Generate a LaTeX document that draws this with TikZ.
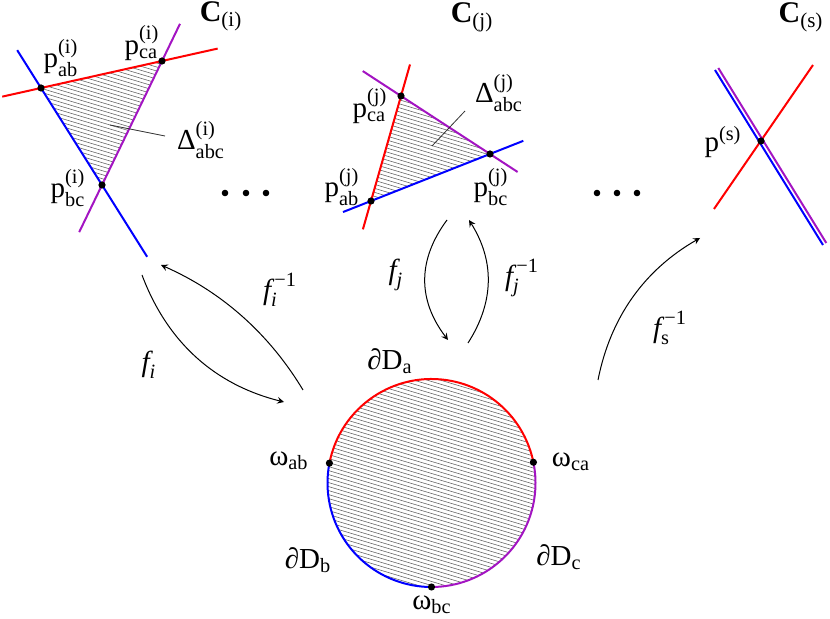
\documentclass[tikz,border=0pt]{standalone}
\usepackage{amsmath}
\usepackage{fontspec}
\setmainfont{Liberation Serif}
\usepackage{tikz}
\usetikzlibrary{arrows,calc}

\definecolor{lilac}{rgb}{0.64,0.08,0.76}

\newcommand{\plab}[2]{$\text{p}^{\text{(#2)}}_{\text{#1}}$}
\newcommand{\hatchall}{\foreach \c in {-300,-296,...,700} \draw[hatch] (0,\c) -- (830,\c+249);}

\tikzset{
  aline/.style={red, line width=1pt},
  bline/.style={blue, line width=1pt},
  cline/.style={lilac, line width=1pt},
  hatch/.style={black!60, line width=0.3pt},
  pdot/.style={circle, fill=black, inner sep=0pt, minimum size=3.6pt},
  ddot/.style={circle, fill=black, inner sep=0pt, minimum size=3.3pt},
  lbl/.style={font=\fontsize{14.5}{16}\selectfont, inner sep=0pt},
  clbl/.style={font=\fontsize{15}{17}\selectfont, inner sep=0pt},
  map/.style={->, >=stealth, line width=0.5pt},
  leader/.style={black!80, line width=0.4pt}
}

\begin{document}
\begin{tikzpicture}[x=0.5pt, y=-0.5pt]
    \useasboundingbox (0,0) rectangle (830,619);

    % curve C(i)
    \coordinate (pabI) at (41,88);
    \coordinate (pcaI) at (162,61);
    \coordinate (pbcI) at (102,185);
    \begin{scope}
      \clip (pabI) -- (pcaI) -- (pbcI) -- cycle;
      \hatchall
    \end{scope}
    \draw[aline] ($(pabI)!-0.32!(pcaI)$) -- ($(pabI)!1.46!(pcaI)$);
    \draw[bline] ($(pabI)!-0.39!(pbcI)$) -- ($(pabI)!1.74!(pbcI)$);
    \draw[cline] ($(pcaI)!-0.3!(pbcI)$) -- ($(pcaI)!1.38!(pbcI)$);
    \node[pdot] (dabI) at (pabI) {};
    \node[pdot] (dcaI) at (pcaI) {};
    \node[pdot] (dbcI) at (pbcI) {};
    \node[lbl] (labI) at (61,58) {\plab{ab}{i}};
    \node[lbl] (lcaI) at (142,43) {\plab{ca}{i}};
    \node[lbl] (lbcI) at (68,188) {\plab{bc}{i}};
    \node[lbl] (deltaI) at (201,140) {$\text{Δ}^{\text{(i)}}_{\text{abc}}$};
    \coordinate (inI) at (110,125);
    \coordinate (outI) at (165,136);
    \draw[leader] (inI) -- (outI);
    \node[clbl] (curveI) at (221,16) {$\textbf{C}_{\text{(i)}}$};

    % curve C(j)
    \coordinate (pcaJ) at (401,96);
    \coordinate (pbcJ) at (490,154);
    \coordinate (pabJ) at (371,201);
    \begin{scope}
      \clip (pabJ) -- (pcaJ) -- (pbcJ) -- cycle;
      \hatchall
    \end{scope}
    \draw[aline] ($(pabJ)!-0.27!(pcaJ)$) -- ($(pabJ)!1.3!(pcaJ)$);
    \draw[bline] ($(pabJ)!-0.235!(pbcJ)$) -- ($(pabJ)!1.28!(pbcJ)$);
    \draw[cline] ($(pcaJ)!-0.43!(pbcJ)$) -- ($(pcaJ)!1.31!(pbcJ)$);
    \node[pdot] (dabJ) at (pabJ) {};
    \node[pdot] (dcaJ) at (pcaJ) {};
    \node[pdot] (dbcJ) at (pbcJ) {};
    \node[lbl] (lcaJ) at (370,106) {\plab{ca}{j}};
    \node[lbl] (labJ) at (342,187) {\plab{ab}{j}};
    \node[lbl] (lbcJ) at (491,187) {\plab{bc}{j}};
    \node[lbl] (deltaJ) at (499,93) {$\text{Δ}^{\text{(j)}}_{\text{abc}}$};
    \coordinate (inJ) at (432,146);
    \coordinate (outJ) at (465,111);
    \draw[leader] (inJ) -- (outJ);
    \node[clbl] (curveJ) at (472,17) {$\textbf{C}_{\text{(j)}}$};

    % curve C(s)
    \coordinate (pS) at (761,141);
    \draw[aline] (714,209) -- (813,65);
    \draw[bline] (715,70) -- (823,245);
    \draw[cline] (718.3,68) -- (826.3,243);
    \node[pdot] (dS) at (pS) {};
    \node[lbl] (lS) at (723,142) {$\text{p}^{\text{(s)}}$};
    \node[clbl] (curveS) at (801,17) {$\textbf{C}_{\text{(s)}}$};

    % dots
    \foreach \x in {225,246,266} \node[ddot] at (\x,193) {};
    \foreach \x in {597,617,637} \node[ddot] at (\x,193) {};

    % disc D
    \coordinate (O) at (431.5,483);
    \begin{scope}
      \clip (O) circle [radius=104];
      \hatchall
    \end{scope}
    \coordinate (wab) at ($(O)+(191:104)$);
    \coordinate (wca) at ($(O)+(-11.5:104)$);
    \coordinate (wbc) at ($(O)+(90:104)$);
    \draw[aline] (wab) arc [start angle=191, end angle=348.5, radius=104];
    \draw[bline] (wbc) arc [start angle=90, end angle=191, radius=104];
    \draw[cline] (wca) arc [start angle=-11.5, end angle=90, radius=104];
    \node[pdot] (dab) at (wab) {};
    \node[pdot] (dca) at (wca) {};
    \node[pdot] (dbc) at (wbc) {};
    \node[lbl] (lab) at (289,461) {$\text{ω}_{\text{ab}}$};
    \node[lbl] (lca) at (571,462) {$\text{ω}_{\text{ca}}$};
    \node[lbl] (lbc) at (432,605) {$\text{ω}_{\text{bc}}$};
    \node[lbl] (bDa) at (390,361) {$\text{∂D}_{\text{a}}$};
    \node[lbl] (bDb) at (308,560) {$\text{∂D}_{\text{b}}$};
    \node[lbl] (bDc) at (559,557) {$\text{∂D}_{\text{c}}$};

    % maps
    \coordinate (fiA) at (142,275);
    \coordinate (fiB) at (284,402);
    \coordinate (giA) at (303,390);
    \coordinate (giB) at (161,265);
    \draw[map] (fiA) .. controls (167.3,342.3) and (214.7,384.7) .. (fiB);
    \draw[map] (giA) .. controls (268.9,333.3) and (221.5,291.7) .. (giB);
    \node[lbl] (fi) at (149,365) {$\textit{f}_{\textit{i}}$};
    \node[lbl] (gi) at (280,290) {$\textit{f}_{\textit{i}}^{\,\text{−1}}$};

    \coordinate (fjA) at (447,220);
    \coordinate (fjB) at (448,340);
    \coordinate (gjA) at (468,343);
    \coordinate (gjB) at (469,220);
    \draw[map] (fjA) .. controls (417.3,260) and (417.7,300) .. (fjB);
    \draw[map] (gjA) .. controls (494.3,302) and (494.7,261) .. (gjB);
    \node[lbl] (fj) at (396,275) {$\textit{f}_{\textit{j}}$};
    \node[lbl] (gj) at (522,278) {$\textit{f}_{\textit{j}}^{\,\text{−1}}$};

    \coordinate (gsA) at (598,380);
    \coordinate (gsB) at (700,238);
    \draw[map] (gsA) .. controls (610.4,317.2) and (644.4,269.9) .. (gsB);
    \node[lbl] (gs) at (670,328) {$\textit{f}_{\text{s}}^{\,\text{−1}}$};
\end{tikzpicture}
\end{document}
